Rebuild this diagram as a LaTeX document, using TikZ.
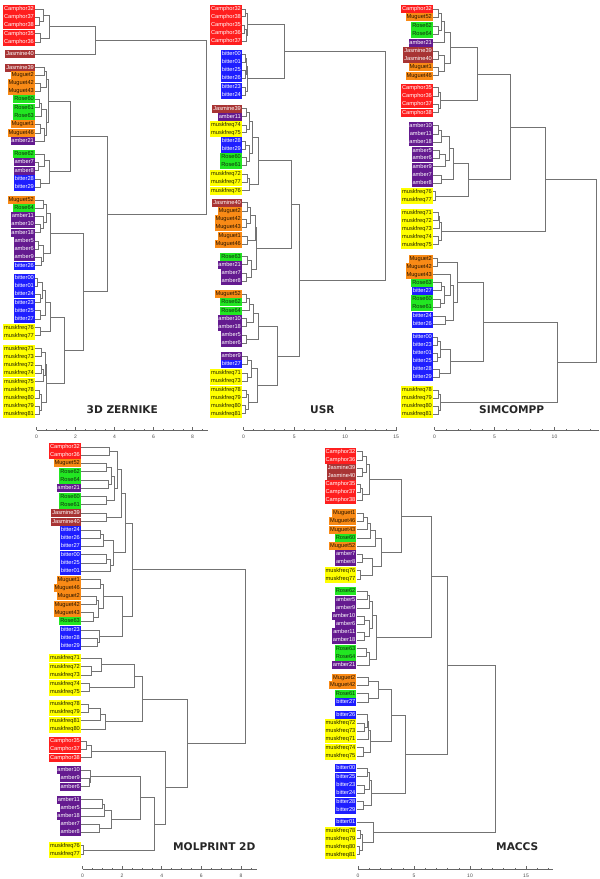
\documentclass[tikz,border=0pt]{standalone}
\usepackage{fontspec}
\setmainfont{Liberation Sans}
\newfontfamily\dvfont{DejaVu Sans}
\usetikzlibrary{calc}

% odour classes
\definecolor{cam}{HTML}{FF1E1E}\definecolor{camtxt}{HTML}{FFFFFF}
\definecolor{jas}{HTML}{A83434}\definecolor{jastxt}{HTML}{FFFFFF}
\definecolor{mug}{HTML}{F98A16}\definecolor{mugtxt}{HTML}{2A1600}
\definecolor{ros}{HTML}{22E622}\definecolor{rostxt}{HTML}{0F2F0F}
\definecolor{amb}{HTML}{641A8F}\definecolor{ambtxt}{HTML}{FFFFFF}
\definecolor{bit}{HTML}{1E1EFF}\definecolor{bittxt}{HTML}{FFFFFF}
\definecolor{mus}{HTML}{FFFF00}\definecolor{mustxt}{HTML}{202000}

\newcommand\lblfont{\fontsize{5.7}{6}\selectfont}
\newcommand\ttlfont{\dvfont\bfseries\fontsize{10.6}{12}\selectfont}
% join two branches at height #3, new branch point #4
\newcommand\mrg[4]{%
  \path (#3,0) coordinate (h);
  \draw[br] (#1) -- (#1 -| h) -- (#2 -| h) -- (#2);
  \coordinate (#4) at ($(#1 -| h)!0.5!(#2 -| h)$);}

\tikzset{
  leaf/.style={anchor=east, xshift=-1.5pt, fill=#1, text=#1txt, font=\lblfont,
    inner xsep=0.9pt, inner ysep=0pt, minimum height=8.3pt, text height=4.1pt, text depth=1.1pt},
  br/.style={draw=black!55, line width=0.55pt},
  axis/.style={draw=black!60, line width=0.5pt},
  tick/.style={font=\fontsize{5}{5}\selectfont, text=black!70, inner sep=0pt},
  ttl/.style={font=\ttlfont, text=black!85, anchor=west, inner sep=0pt}
}

\begin{document}
\begin{tikzpicture}[x=1pt, y=-1pt]
\useasboundingbox (0,0) rectangle (600,879);

% 3D ZERNIKE
\begin{scope}[shift={(36.5,0)}, x=19.5pt, name prefix=z-]
\foreach \lb/\yy/\gp in {Camphor32/9.3/cam, Camphor37/17/cam, Camphor38/25/cam, Camphor35/33.7/cam, Camphor36/42/cam,
  Jasmine40/54/jas,
  Jasmine39/67.7/jas, Muguet2/75.3/mug, Muguet42/83.3/mug, Muguet43/91.3/mug, Rose60/99.3/ros, Rose61/107.7/ros,
  Rose63/116/ros, Muguet1/124.3/mug, Muguet46/133/mug, amber21/141.3/amb,
  Rose62/154/ros, amber7/162.3/amb, amber8/170.7/amb, bitter28/179/bit, bitter29/187/bit,
  Muguet52/200/mug, Rose64/208.3/ros, amber11/216/amb, amber10/224.3/amb, amber18/232.7/amb, amber5/241.3/amb,
  amber6/249.3/amb, amber9/257.3/amb, bitter26/265.7/bit,
  bitter00/278.3/bit, bitter01/286.3/bit, bitter24/294.3/bit, bitter23/302.7/bit, bitter25/310.7/bit, bitter27/319/bit,
  muskfreq76/327.7/mus, muskfreq77/335.7/mus,
  muskfreq71/348.7/mus, muskfreq73/356.7/mus, muskfreq72/365/mus, muskfreq74/373.3/mus, muskfreq75/381.7/mus,
  muskfreq78/390/mus, muskfreq80/398.3/mus, muskfreq79/406.3/mus, muskfreq81/414.3/mus}
  \node[leaf=\gp] (\lb) at (0,\yy) {\lb};
\foreach \ca/\cb/\hh/\nm in {Camphor37/Camphor38/0.15/a1, Camphor32/a1/0.35/a2, Camphor35/Camphor36/0.2/a3, a2/a3/0.68/a4,
  a4/Jasmine40/3.0/a5,
  Jasmine39/Muguet2/0.4/b1, Muguet42/Muguet43/0.2/b2, b1/b2/0.5/b3, Rose60/Rose61/0.15/b4, b4/Rose63/0.25/b5,
  Muguet1/Muguet46/0.2/b6, b6/amber21/0.4/b7, b5/b7/0.5/b8, b3/b8/0.62/b9,
  amber7/amber8/0.1/c1, Rose62/c1/0.4/c2, bitter28/bitter29/0.2/c3, c2/c3/0.68/c4, b9/c4/1.75/c5,
  Muguet52/Rose64/0.35/d1, amber10/amber18/0.2/d2, amber11/d2/0.35/d3, d1/d3/0.5/d4, amber5/amber6/0.1/d5,
  amber9/bitter26/0.25/d6, d5/d6/0.35/d7, d4/d7/0.72/d8,
  bitter00/bitter01/0.05/e1, bitter24/bitter23/0.2/e2, e1/e2/0.3/e3, bitter25/bitter27/0.2/e4, e3/e4/0.45/e5,
  muskfreq76/muskfreq77/0.2/e6, e5/e6/0.72/e7,
  muskfreq71/muskfreq73/0.25/f1, muskfreq72/muskfreq74/0.25/f2, f2/muskfreq75/0.35/f3, f1/f3/0.45/f4,
  muskfreq78/muskfreq80/0.15/f5, muskfreq79/muskfreq81/0.15/f6, f5/f6/0.25/f7, f4/f7/0.5/f8, e7/f8/1.4/f9,
  d8/f9/2.4/g1, c5/g1/3.64/g2, a5/g2/8.7/g3}
  {\mrg{\ca}{\cb}{\hh}{\nm}}
% axis
\draw[axis] (0,430) -- (8.8,430);
\foreach \tk in {0,0.5,...,8.5} \draw[axis] (\tk,430) -- ++(0,-1.5);
\foreach \tk in {0,2,...,8} {\draw[axis] (\tk,430) -- ++(0,-3); \node[tick] (tk\tk) at (\tk,436.5) {\tk};}
\end{scope}

% USR
\begin{scope}[shift={(243.5,0)}, x=10.17pt, name prefix=u-]
\foreach \lb/\yy/\gp in {Camphor32/9.3/cam, Camphor38/16.7/cam, Camphor35/25/cam, Camphor36/33/cam, Camphor37/41.3/cam,
  bitter00/54/bit, bitter01/62.3/bit, bitter25/70.3/bit, bitter26/78.3/bit, bitter23/87.3/bit, bitter24/95.3/bit,
  Jasmine39/108.7/jas, amber11/116.7/amb, muskfreq74/125.3/mus, muskfreq75/132.7/mus, bitter28/141.3/bit,
  bitter29/149.3/bit, Rose60/157.3/ros, Rose61/165/ros, muskfreq72/174/mus, muskfreq77/182.3/mus, muskfreq76/190.7/mus,
  Jasmine40/202.7/jas, Muguet2/211/mug, Muguet42/219.3/mug, Muguet43/227.3/mug, Muguet1/236/mug, Muguet46/244/mug,
  Rose63/256.7/ros, amber21/264.7/amb, amber7/273/amb, amber8/281/amb,
  Muguet52/294.3/mug, Rose62/302.3/ros, Rose64/310.7/ros, amber10/318.7/amb, amber18/326.7/amb, amber5/335.3/amb,
  amber6/343.3/amb,
  amber9/356/amb, bitter27/364.3/bit, muskfreq71/373/mus, muskfreq73/381/mus, muskfreq78/390/mus,
  muskfreq79/397.7/mus, muskfreq80/405.7/mus, muskfreq81/413.7/mus}
  \node[leaf=\gp] (\lb) at (0,\yy) {\lb};
\foreach \ca/\cb/\hh/\nm in {Camphor32/Camphor38/0.15/a1, Camphor35/Camphor36/0.1/a2, a2/Camphor37/0.25/a3, a1/a3/0.35/a4,
  bitter00/bitter01/0.15/a5, bitter25/bitter26/0.15/a6, a5/a6/0.3/a7, bitter23/bitter24/0.2/a8, a7/a8/0.35/a9,
  a4/a9/4.0/a10,
  Jasmine39/amber11/0.3/b1, muskfreq74/muskfreq75/0.25/b2, b1/b2/0.55/b3, bitter28/bitter29/0.2/b4,
  Rose60/Rose61/0.3/b5, b4/b5/0.6/b6, b3/b6/0.9/b7, muskfreq72/muskfreq77/0.35/b8, b8/muskfreq76/0.55/b9,
  b7/b9/1.5/b10,
  Jasmine40/Muguet2/0.4/c1, Muguet42/Muguet43/0.3/c2, c1/c2/0.7/c3, Muguet1/Muguet46/0.4/c4, c3/c4/1.2/c5,
  Rose63/amber21/0.4/c6, amber7/amber8/0.3/c7, c6/c7/0.8/c8, c5/c8/1.3/c9, b10/c9/4.65/c10,
  Muguet52/Rose62/0.3/d1, d1/Rose64/0.6/d2, amber10/amber18/0.3/d3, d2/d3/1.0/d4, amber5/amber6/0.3/d5,
  d4/d5/1.5/d6,
  amber9/bitter27/0.4/e1, muskfreq71/muskfreq73/0.4/e2, e1/e2/0.8/e3, muskfreq78/muskfreq79/0.3/e4,
  muskfreq80/muskfreq81/0.2/e5, e4/e5/0.45/e6, e3/e6/1.4/e7, d6/e7/3.3/e8,
  c10/e8/5.5/f1, a10/f1/13.9/f2}
  {\mrg{\ca}{\cb}{\hh}{\nm}}
% axis
\draw[axis] (0,430) -- (15.1,430);
\foreach \tk in {0,...,15} \draw[axis] (\tk,430) -- ++(0,-1.5);
\foreach \tk in {0,5,10,15} {\draw[axis] (\tk,430) -- ++(0,-3); \node[tick] (tk\tk) at (\tk,436.5) {\tk};}
\end{scope}

% SIMCOMPP
\begin{scope}[shift={(434.5,0)}, x=12pt, name prefix=s-]
\foreach \lb/\yy/\gp in {Camphor32/9.3/cam, Muguet52/17.3/mug, Rose62/26/ros, Rose64/34.3/ros, amber21/42.7/amb,
  Jasmine39/51/jas, Jasmine40/59/jas, Muguet1/67.3/mug, Muguet46/75.7/mug,
  Camphor35/87.7/cam, Camphor36/96/cam, Camphor37/104.3/cam, Camphor38/112.7/cam,
  amber10/125.7/amb, amber11/134/amb, amber18/142.3/amb, amber5/150.7/amb, amber6/158.3/amb, amber9/166.7/amb,
  amber7/175/amb, amber8/183/amb, muskfreq76/191.7/mus, muskfreq77/200/mus,
  muskfreq71/212.7/mus, muskfreq72/220.7/mus, muskfreq73/228.7/mus, muskfreq74/236.7/mus, muskfreq75/244.7/mus,
  Muguet2/258.7/mug, Muguet42/266.7/mug, Muguet43/274.7/mug, Rose63/282.7/ros, bitter27/290.7/bit,
  Rose60/299/ros, Rose61/307.3/ros, bitter24/316/bit, bitter26/324/bit,
  bitter00/337/bit, bitter23/345/bit, bitter01/353/bit, bitter25/361/bit, bitter28/369.3/bit, bitter29/377.3/bit,
  muskfreq78/390/mus, muskfreq79/398/mus, muskfreq80/406/mus, muskfreq81/414/mus}
  \node[leaf=\gp] (\lb) at (0,\yy) {\lb};
\foreach \ca/\cb/\hh/\nm in {Camphor32/Muguet52/0.3/a1, Rose62/Rose64/0.35/a2, a1/a2/0.6/a3, a3/amber21/0.8/a4,
  Jasmine39/Jasmine40/0.35/a5, Muguet1/Muguet46/0.35/a6, a5/a6/0.8/a7, a4/a7/1.3/a8,
  Camphor35/Camphor36/0.3/a9, Camphor37/Camphor38/0.3/a10, a9/a10/0.5/a11, a8/a11/3.6/a12,
  amber10/amber11/0.3/b1, b1/amber18/0.6/b2, amber5/amber6/0.4/b3, b3/amber9/0.9/b4, b2/b4/1.2/b5,
  amber7/amber8/0.6/b6, b5/b6/1.6/b7, muskfreq76/muskfreq77/0.05/b8, b7/b8/2.8/b9, a12/b9/6.3/b10,
  muskfreq71/muskfreq72/0.3/c1, c1/muskfreq73/0.4/c2, muskfreq74/muskfreq75/0.3/c3, c2/c3/0.6/c4,
  b10/c4/9.25/c5,
  Muguet2/Muguet42/0.25/d1, Rose63/bitter27/0.6/d2, Rose60/Rose61/0.5/d3, d2/d3/0.8/d4, Muguet43/d4/1.3/d5,
  bitter24/bitter26/0.9/d6, d5/d6/1.6/d7, d1/d7/1.9/d8,
  bitter00/bitter23/0.2/e1, bitter01/bitter25/0.2/e2, e1/e2/0.5/e3, bitter28/bitter29/0.4/e4, e3/e4/1.3/e5,
  d8/e5/4.05/e6, muskfreq78/muskfreq79/0.3/e7, muskfreq80/muskfreq81/0.3/e8, e7/e8/0.5/e9, e6/e9/10.2/e10,
  c5/e10/13.5/e11}
  {\mrg{\ca}{\cb}{\hh}{\nm}}
% axis
\draw[axis] (0,430) -- (13.7,430);
\foreach \tk in {0,...,13} \draw[axis] (\tk,430) -- ++(0,-1.5);
\foreach \tk in {0,5,10} {\draw[axis] (\tk,430) -- ++(0,-3); \node[tick] (tk\tk) at (\tk,436.5) {\tk};}
\end{scope}

% MOLPRINT 2D
\begin{scope}[shift={(82.5,0)}, x=19.8pt, name prefix=m-]
\foreach \lb/\yy/\gp in {Camphor32/447/cam, Camphor36/455/cam, Muguet52/463.3/mug, Rose62/471.7/ros, Rose64/480/ros,
  amber21/488.3/amb, Rose60/496.7/ros, Rose61/504.7/ros, Jasmine39/513.3/jas, Jasmine40/521.7/jas,
  bitter24/530/bit, bitter26/538/bit, bitter27/546.3/bit, bitter00/554.7/bit, bitter25/563/bit, bitter01/571.3/bit,
  Muguet1/579.7/mug, Muguet46/588/mug, Muguet2/596.3/mug, Muguet42/604.7/mug, Muguet43/612.7/mug, Rose63/621/ros,
  bitter23/630/bit, bitter28/638/bit, bitter29/646.3/bit,
  muskfreq71/658.3/mus, muskfreq72/666.7/mus, muskfreq73/675/mus, muskfreq74/683.7/mus, muskfreq75/691.7/mus,
  muskfreq78/704/mus, muskfreq79/712.3/mus, muskfreq81/720.7/mus, muskfreq80/729/mus,
  Camphor35/741/cam, Camphor37/749.3/cam, Camphor38/757.7/cam,
  amber10/770.3/amb, amber9/778.3/amb, amber6/786.7/amb,
  amber11/799.7/amb, amber5/808/amb, amber18/816/amb, amber7/824.3/amb, amber8/832.3/amb,
  muskfreq76/845.7/mus, muskfreq77/854.3/mus}
  \node[leaf=\gp] (\lb) at (0,\yy) {\lb};
\foreach \ca/\cb/\hh/\nm in {Camphor32/Camphor36/1.35/a1, Muguet52/Rose62/1.2/a2, Rose64/amber21/1.3/a3, a2/a3/1.45/a4,
  Rose60/Rose61/1.2/a5, a4/a5/1.6/a6, a1/a6/1.75/a7, Jasmine39/Jasmine40/1.2/a8, a7/a8/1.95/a9,
  bitter24/bitter26/0.9/b1, b1/bitter27/1.05/b2, bitter00/bitter25/1.2/b3, b3/bitter01/1.4/b4, b2/b4/1.55/b5,
  a9/b5/2.15/b6,
  Muguet1/Muguet46/0.9/c1, Muguet2/Muguet42/0.7/c2, Muguet43/Rose63/0.55/c3, c2/c3/0.8/c4, c1/c4/1.05/c5,
  bitter28/bitter29/0.75/c6, bitter23/c6/0.85/c7, c5/c7/2.0/c8, b6/c8/2.5/c9,
  muskfreq72/muskfreq73/0.45/d1, muskfreq71/d1/0.95/d2, muskfreq74/muskfreq75/0.35/d3, d2/d3/2.6/d4,
  muskfreq78/muskfreq79/0.3/d5, d5/muskfreq81/0.9/d6, d6/muskfreq80/1.15/d7, d4/d7/3.0/d8,
  Camphor35/Camphor37/0.2/e1, e1/Camphor38/0.45/e2, amber9/amber6/0.35/e3, amber10/e3/0.4/e4,
  amber11/amber5/1.0/e5, e5/amber18/1.1/e6, amber7/amber8/0.85/e7, e6/e7/1.45/e8, e4/e8/2.9/e9,
  muskfreq76/muskfreq77/0.05/e10, e9/e10/3.6/e11, e2/e11/4.2/e12, d8/e12/5.3/e13, c9/e13/8.2/e14}
  {\mrg{\ca}{\cb}{\hh}{\nm}}
% axis
\draw[axis] (0,869) -- (8.8,869);
\foreach \tk in {0,0.5,...,8.5} \draw[axis] (\tk,869) -- ++(0,-1.5);
\foreach \tk in {0,2,...,8} {\draw[axis] (\tk,869) -- ++(0,-3); \node[tick] (tk\tk) at (\tk,875.5) {\tk};}
\end{scope}

% MACCS
\begin{scope}[shift={(358,0)}, x=11.2pt, name prefix=c-]
\foreach \lb/\yy/\gp in {Camphor32/451.7/cam, Camphor36/460/cam, Jasmine39/468.3/jas, Jasmine40/476.3/jas,
  Camphor35/484.3/cam, Camphor37/492.3/cam, Camphor38/500.3/cam,
  Muguet1/513.3/mug, Muguet46/521.3/mug, Muguet43/529.7/mug, Rose60/538/ros, Muguet52/546/mug, amber7/554.3/amb,
  amber8/562.3/amb, muskfreq76/570.7/mus, muskfreq77/579/mus,
  Rose62/591.3/ros, amber5/599.7/amb, amber9/608/amb, amber10/616/amb, amber6/624.3/amb, amber11/632.3/amb,
  amber18/640.3/amb, Rose63/648.7/ros, Rose64/656.7/ros, amber21/665/amb,
  Muguet2/677.7/mug, Muguet42/685.3/mug, Rose61/693.7/ros, bitter27/702.3/bit,
  bitter26/714.7/bit, muskfreq72/723/mus, muskfreq73/731/mus, muskfreq71/739.3/mus, muskfreq74/747.7/mus,
  muskfreq75/756/mus,
  bitter00/768.3/bit, bitter25/776.7/bit, bitter23/785/bit, bitter24/793/bit, bitter28/801.7/bit, bitter29/809.7/bit,
  bitter01/822/bit, muskfreq78/830.7/mus, muskfreq79/838.7/mus, muskfreq80/846.7/mus, muskfreq81/854.7/mus}
  \node[leaf=\gp] (\lb) at (0,\yy) {\lb};
\foreach \ca/\cb/\hh/\nm in {Camphor32/Camphor36/0.4/a1, Jasmine39/Jasmine40/0.4/a2, a1/a2/0.75/a3,
  Camphor35/Camphor37/0.2/a4, a4/Camphor38/0.35/a5, a3/a5/1.05/a6,
  Muguet1/Muguet46/0.5/b1, b1/Muguet43/0.85/b2, b2/Rose60/1.1/b3, b3/Muguet52/1.5/b4, amber7/amber8/0.4/b5,
  muskfreq76/muskfreq77/0.2/b6, b5/b6/1.3/b7, b4/b7/2.1/b8, a6/b8/3.9/b9,
  Rose62/amber5/0.8/c1, c1/amber9/1.0/c2, amber10/amber6/0.6/c3, amber11/amber18/0.6/c4, c3/c4/1.0/c5,
  c2/c5/1.25/c6, Rose63/Rose64/0.7/c7, c7/amber21/1.0/c8, c6/c8/1.6/c9, b9/c9/6.5/c10,
  Muguet2/Muguet42/0.9/d1, Rose61/bitter27/0.9/d2, d1/d2/1.8/d3, muskfreq72/muskfreq73/0.6/d4,
  bitter26/d4/0.85/d5, d5/muskfreq71/0.95/d6, muskfreq74/muskfreq75/0.5/d7, d6/d7/1.1/d8, d3/d8/3.0/d9,
  bitter00/bitter25/0.8/e1, bitter23/bitter24/0.6/e2, e1/e2/1.0/e3, bitter28/bitter29/0.5/e4, e3/e4/1.2/e5,
  d9/e5/4.2/e6, c10/e6/8.0/e7,
  muskfreq78/muskfreq79/0.2/f1, muskfreq80/muskfreq81/0.15/f2, f1/f2/0.4/f3, bitter01/f3/1.35/f4,
  e7/f4/12.3/f5}
  {\mrg{\ca}{\cb}{\hh}{\nm}}
% axis
\draw[axis] (0,869) -- (17.4,869);
\foreach \tk in {0,...,17} \draw[axis] (\tk,869) -- ++(0,-1.5);
\foreach \tk in {0,5,10,15} {\draw[axis] (\tk,869) -- ++(0,-3); \node[tick] (tk\tk) at (\tk,875.5) {\tk};}
\end{scope}

% titles
\node[ttl] (zer) at (86.5,410) {3D ZERNIKE};
\node[ttl] (usr) at (310,410) {USR};
\node[ttl] (sim) at (479,410) {SIMCOMPP};
\node[ttl] (mol) at (173,846.5) {MOLPRINT 2D};
\node[ttl] (mac) at (496,846.5) {MACCS};
\end{tikzpicture}
\end{document}
